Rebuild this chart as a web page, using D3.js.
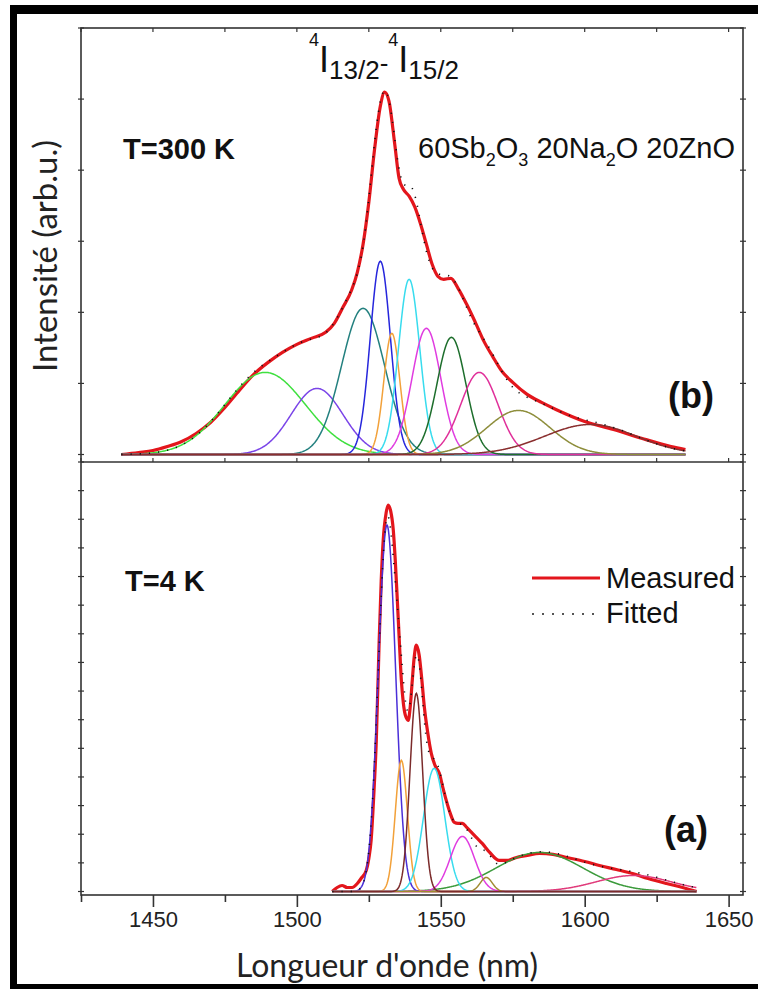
<!DOCTYPE html>
<html>
<head>
<meta charset="utf-8">
<script src="https://cdn.jsdelivr.net/npm/d3@7"></script>
<style>
  html, body { margin: 0; padding: 0; background: #fff; }
  svg { display: block; }
</style>
</head>
<body>
<svg id="chart" width="758" height="989"></svg>
<script>
// ---- Axis ticks (wavelength, nm) ----
const xMajorTicks = [1450, 1500, 1550, 1600, 1650];
const xMinorTicks = [1425, 1475, 1525, 1575, 1625];

// ---- (b) T = 300 K : measured spectrum [wavelength nm, intensity a.u.] ----
const measured300 = [
  [1439,0],[1445,2],[1450,4],[1455,8],[1460,13],[1465,21],[1470,32],[1475,47],
  [1480,64],[1485,80],[1490,92],[1495,102],[1500,110],[1505,116],[1510,122],
  [1513,131],[1516,147],[1519,164],[1521,182],[1523,210],[1525,252],[1527,305],
  [1529,348],[1530.5,362],[1532,353],[1534,310],[1535.5,276],[1537,265],[1539,258],
  [1541,247],[1543,230],[1545,210],[1547,190],[1549,178],[1551,175],[1553.5,176],
  [1556,166],[1559,150],[1562,132],[1565,113],[1568,98],[1571,84],[1575,72],
  [1580,60],[1585,52],[1590,45],[1600,33],[1610,25],[1620,16],[1630,8],[1635,5]
];
// Gaussian components of the 300 K fit
const centers300 = [1489, 1507, 1523, 1529, 1533, 1539, 1545, 1553.7, 1563.4, 1577, 1602];
const heights300 = [82, 66, 146, 193, 121, 175, 126, 117, 82, 44, 30];
const sigmas300  = [14, 9, 7.5, 3.5, 2.8, 3.7, 5, 5, 6.5, 11, 16];
const range300   = [1439, 1635];

// ---- (a) T = 4 K : measured spectrum ----
const measured4 = [
  [1512.3,0],[1514,4],[1515.7,6],[1517.5,4],[1519.2,4],[1521,8],[1522.3,13],
  [1524.1,21],[1525,33],[1525.8,51],[1526.7,95],[1527.6,151],[1528.6,251],
  [1529.3,310],[1530,351],[1531,378],[1531.7,386],[1532.6,380],[1533.5,361],
  [1534.2,330],[1534.9,291],[1535.6,250],[1536.3,211],[1537,188],[1537.7,176],
  [1538.7,171],[1539.4,185],[1540.1,211],[1540.8,235],[1541.5,246],[1542.5,236],
  [1543.4,212],[1544.3,184],[1545.5,158],[1546.7,138],[1548,126],[1549.5,118],
  [1550.7,104],[1551.9,91],[1553.3,78],[1554.7,69],[1556,68],[1557.5,68],
  [1559,64],[1561,58],[1562.7,53],[1564.4,48],[1567,39],[1570.3,31],[1573,31],
  [1576.3,34],[1580,36],[1584.3,38],[1589,37],[1593.7,34],[1600,30],[1605.1,26],
  [1611,22],[1616.6,18],[1622,13],[1628.4,8],[1634,4],[1638.9,0]
];
// Gaussian components of the 4 K fit
const centers4 = [1531.3, 1536.3, 1541.5, 1547.7, 1557.5, 1565.8, 1584.3, 1617];
const heights4 = [366, 131, 198, 123, 55, 14, 39, 16];
const sigmas4  = [3.0, 2.1, 2.2, 3.7, 4.2, 2.1, 15, 13];
const range4   = [1512.3, 1638.9];

// ---- Colours ----
const colors300 = ['#3fe03f','#7a44e8','#23807f','#2626dc','#f2a13a','#38dcee',
                   '#e03ce0','#1d6e2c','#e0309a','#8e8e3c','#8a2f2f'];
const colors4   = ['#4a2fd8','#f2a13a','#7b2b2b','#38dcee','#e03ce0','#a08a30',
                   '#3b9a3b','#e03a7a'];
const order4    = [6, 7, 0, 1, 3, 4, 5, 2];   // drawing order (brown trace on top)
const measuredColor = '#e3161c';

// ---- Geometry ----
const box = { left: 81, right: 743, top: 28, mid: 462, bottom: 895 };

const svg = d3.select('#chart');

const x = d3.scaleLinear().domain([1425, 1655]).range([box.left, box.right]);
const yTop = d3.scaleLinear().domain([0, 426]).range([454.5, box.top]);
const yBot = d3.scaleLinear().domain([0, 429]).range([891.5, box.mid]);

// Gaussian profile and sampling helpers
function gauss(l, c, h, s) { return h * Math.exp(-((l - c) * (l - c)) / (2 * s * s)); }
function grid(r, step) { return d3.range(r[0], r[1] + step / 2, step); }

// ---- Outer frame ----
svg.append('rect').attr('x', 10).attr('y', 5).attr('width', 748).attr('height', 9).attr('fill', '#000');
svg.append('rect').attr('x', 10).attr('y', 5).attr('width', 7).attr('height', 984).attr('fill', '#000');
svg.append('rect').attr('x', 10).attr('y', 984).attr('width', 748).attr('height', 5).attr('fill', '#000');

// ---- Panels ----
function drawPanel(y, measured, centers, heights, sigmas, colors, order, range) {
  const g = svg.append('g');
  const lineGen = d3.line().x(d => x(d[0])).y(d => y(d[1])).curve(d3.curveMonotoneX);

  // measured trace
  g.append('path').datum(measured)
    .attr('d', lineGen)
    .attr('fill', 'none').attr('stroke', measuredColor)
    .attr('stroke-width', 3.2).attr('stroke-linejoin', 'round');

  // components
  const pts = grid(range, 0.25);
  order.forEach(i => {
    const data = pts.map(l => [l, gauss(l, centers[i], heights[i], sigmas[i])]);
    g.append('path').datum(data)
      .attr('d', d3.line().x(d => x(d[0])).y(d => y(d[1])))
      .attr('fill', 'none').attr('stroke', colors[i]).attr('stroke-width', 1.5);
  });

  // cumulative fit (sum of components), dotted
  const fit = pts.map(l => [l, d3.sum(centers, (c, i) => gauss(l, c, heights[i], sigmas[i]))]);
  g.append('path').datum(fit)
    .attr('d', d3.line().x(d => x(d[0])).y(d => y(d[1])))
    .attr('fill', 'none').attr('stroke', '#111')
    .attr('stroke-width', 1.6).attr('stroke-dasharray', '1.2 8');
}

drawPanel(yTop, measured300, centers300, heights300, sigmas300, colors300,
          d3.range(centers300.length), range300);
drawPanel(yBot, measured4, centers4, heights4, sigmas4, colors4, order4, range4);

// ---- Plot frame and divider ----
const axisColor = '#333';
svg.append('rect')
  .attr('x', box.left).attr('y', box.top)
  .attr('width', box.right - box.left).attr('height', box.bottom - box.top)
  .attr('fill', 'none').attr('stroke', axisColor).attr('stroke-width', 1.6);
svg.append('line')
  .attr('x1', box.left).attr('x2', box.right).attr('y1', box.mid).attr('y2', box.mid)
  .attr('stroke', axisColor).attr('stroke-width', 1.6);

// ---- Bottom x axis ----
const xAxis = d3.axisBottom(x).tickValues(xMajorTicks).tickSize(12).tickFormat(d3.format('d'));
const gx = svg.append('g').attr('transform', `translate(0,${box.bottom})`).call(xAxis);
gx.select('.domain').remove();
gx.selectAll('.tick line').attr('stroke', axisColor).attr('stroke-width', 1.6);
gx.selectAll('.tick text')
  .attr('y', 16).attr('dy', '0.71em')
  .attr('font-family', '"Liberation Sans", Arial, sans-serif')
  .attr('font-size', 22).attr('fill', '#222');
const gxm = svg.append('g').attr('transform', `translate(0,${box.bottom})`)
  .call(d3.axisBottom(x).tickValues(xMinorTicks).tickSize(7).tickFormat(''));
gxm.select('.domain').remove();
gxm.selectAll('.tick line').attr('stroke', axisColor).attr('stroke-width', 1.6);

// small inner ticks on the top border and the divider
const allX = xMajorTicks.concat(xMinorTicks);
[[box.top, 4], [box.mid, -4]].forEach(([yy, len]) => {
  svg.append('g').selectAll('line').data(allX).join('line')
    .attr('x1', d => x(d)).attr('x2', d => x(d))
    .attr('y1', yy).attr('y2', yy + len)
    .attr('stroke', axisColor).attr('stroke-width', 1.2);
});

// small ticks on the left / right borders
const yTicksTop = d3.range(0, 427, 71);
const yTicksBot = d3.range(0, 430, 28.6);
[[yTop, yTicksTop], [yBot, yTicksBot]].forEach(([sc, tv]) => {
  [box.left, box.right].forEach(xx => {
    svg.append('g').selectAll('line').data(tv).join('line')
      .attr('x1', xx - 3).attr('x2', xx + 3)
      .attr('y1', d => sc(d)).attr('y2', d => sc(d))
      .attr('stroke', axisColor).attr('stroke-width', 1.2);
  });
});

// ---- Texts ----
const arial = '"Liberation Sans", Arial, sans-serif';
const sansTitle = 'Lato, "Open Sans", sans-serif';

// transition label 4I13/2 - 4I15/2
const title = svg.append('text').attr('x', 309).attr('y', 72)
  .attr('font-family', arial).attr('fill', '#111');
title.append('tspan').attr('font-size', 18).attr('dy', -26).text('4');
title.append('tspan').attr('font-size', 36).attr('dy', 26).text('I');
title.append('tspan').attr('font-size', 26).attr('dy', 7).text('13/2');
title.append('tspan').attr('font-size', 26).attr('dy', -7).text('-');
title.append('tspan').attr('font-size', 18).attr('dy', -26).text('4');
title.append('tspan').attr('font-size', 36).attr('dy', 26).text('I');
title.append('tspan').attr('font-size', 26).attr('dy', 7).text('15/2');

svg.append('text').attr('x', 123).attr('y', 159)
  .attr('font-family', arial).attr('font-weight', 'bold').attr('font-size', 29)
  .attr('fill', '#111').text('T=300 K');

// glass composition with subscripts
const comp = svg.append('text').attr('x', 418).attr('y', 158)
  .attr('font-family', arial).attr('font-size', 29).attr('fill', '#111');
[['60Sb', 0], ['2', 1], ['O', 0], ['3', 1], [' 20Na', 0], ['2', 1], ['O 20ZnO', 0]]
  .forEach(([t, sub], i, arr) => {
    const prevSub = i > 0 ? arr[i - 1][1] : 0;
    comp.append('tspan')
      .attr('font-size', sub ? 18 : 29)
      .attr('dy', (sub - prevSub) * 8)
      .text(t);
  });

svg.append('text').attr('x', 668).attr('y', 408)
  .attr('font-family', arial).attr('font-weight', 'bold').attr('font-size', 36)
  .attr('fill', '#111').text('(b)');

svg.append('text').attr('x', 125).attr('y', 591)
  .attr('font-family', arial).attr('font-weight', 'bold').attr('font-size', 29)
  .attr('fill', '#111').text('T=4 K');

svg.append('text').attr('x', 664).attr('y', 842)
  .attr('font-family', arial).attr('font-weight', 'bold').attr('font-size', 36)
  .attr('fill', '#111').text('(a)');

// legend
const legend = svg.append('g');
legend.append('line').attr('x1', 532).attr('x2', 600).attr('y1', 578).attr('y2', 578)
  .attr('stroke', measuredColor).attr('stroke-width', 3);
legend.append('text').attr('x', 606).attr('y', 588)
  .attr('font-family', arial).attr('font-size', 29).attr('fill', '#111').text('Measured');
legend.append('line').attr('x1', 532).attr('x2', 600).attr('y1', 614).attr('y2', 614)
  .attr('stroke', '#555').attr('stroke-width', 2).attr('stroke-dasharray', '2 8');
legend.append('text').attr('x', 606).attr('y', 623)
  .attr('font-family', arial).attr('font-size', 29).attr('fill', '#111').text('Fitted');

// axis titles, sized to their span along the axis
function fitText(sel, target, base) {
  const len = sel.node().getComputedTextLength();
  sel.attr('font-size', base * target / len);
}
const xTitle = svg.append('text').attr('x', 387).attr('y', 977).attr('text-anchor', 'middle')
  .attr('font-family', sansTitle).attr('font-size', 28).attr('fill', '#222')
  .text("Longueur d'onde (nm)");
fitText(xTitle, 302, 28);
const yTitle = svg.append('text')
  .attr('transform', 'translate(57,256) rotate(-90)')
  .attr('text-anchor', 'middle')
  .attr('font-family', sansTitle).attr('font-size', 26).attr('fill', '#222')
  .text('Intensité (arb.u.)');
fitText(yTitle, 232, 26);
</script>
</body>
</html>
